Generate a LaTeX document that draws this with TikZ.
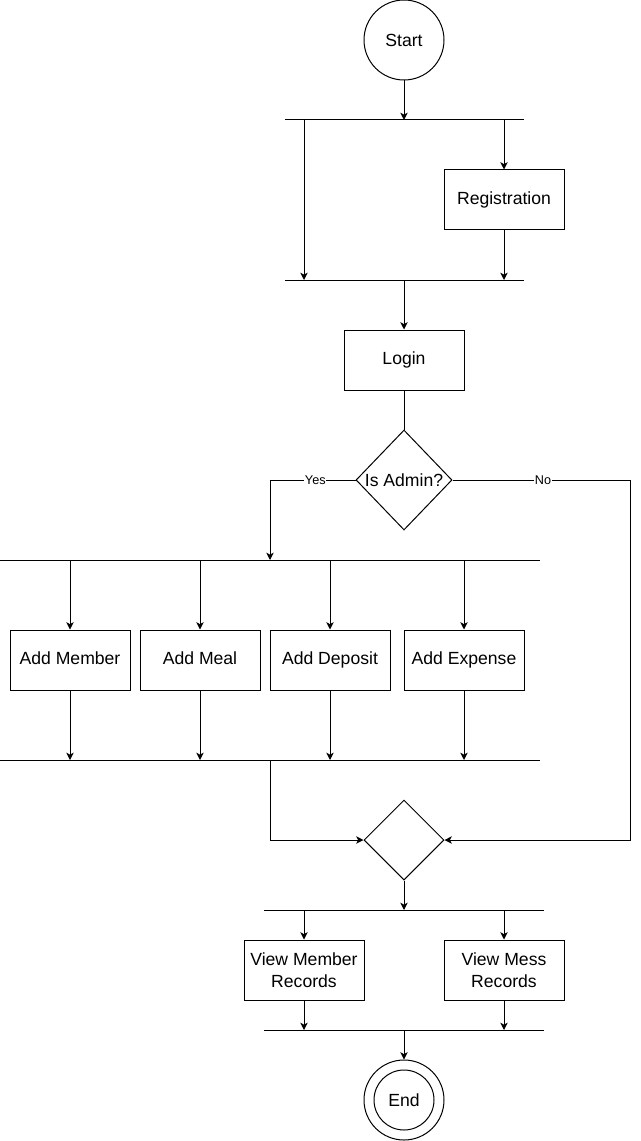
\documentclass[tikz,border=0pt]{standalone}
\usepackage{fontspec}
\setmainfont{Liberation Sans}
\usetikzlibrary{arrows.meta,shapes.geometric}

\tikzset{
	box/.style = {draw, line width=0.75pt, minimum width=90pt, minimum height=45pt, inner sep=1pt, align=center, font=\fontsize{13.2pt}{16.5pt}\selectfont},
	plainbox/.style = {box, text height=9.8pt, text depth=2.8pt},
	terminal/.style = {draw, circle, line width=0.75pt, minimum size=60pt, inner sep=0pt, font=\fontsize{13.2pt}{16pt}\selectfont},
	decision/.style = {draw, diamond, line width=0.75pt, inner sep=0pt},
	bar/.style = {line width=0.75pt},
	arr/.style = {line width=0.75pt, -{Stealth[length=5.5pt, width=5.5pt, inset=1.5pt]}},
	link/.style = {line width=0.75pt},
	edgelabel/.style = {fill=white, inner sep=0.5pt, font=\fontsize{9.5pt}{11pt}\selectfont}
}

\begin{document}
\begin{tikzpicture}[x=0.75pt, y=-0.75pt]

	\useasboundingbox (0,0) rectangle (640,1141);

	% nodes
	\node[terminal] (start) at (404,40) {Start};
	\node[plainbox] (reg) at (504,200) {Registration};
	\node[plainbox] (login) at (404,360) {Login};
	\node[decision, minimum width=72pt, minimum height=75pt,
		label={[font=\fontsize{13.2pt}{16pt}\selectfont]center:Is Admin?}] (admin) at (404,480) {};
	\node[plainbox] (member) at (70,660) {Add Member};
	\node[plainbox] (meal) at (200,660) {Add Meal};
	\node[plainbox] (deposit) at (330,660) {Add Deposit};
	\node[plainbox] (expense) at (464,660) {Add Expense};
	\node[decision, minimum width=60pt, minimum height=60pt] (merge) at (404,840) {};
	\node[box] (vmember) at (304,970) {View Member\\Records};
	\node[box] (vmess) at (504,970) {View Mess\\Records};
	\node[terminal] (end) at (404,1100) {End};
	\draw[line width=0.75pt] (end) circle[radius=22.5pt];

	% bars
	\coordinate (b1l) at (285,120); \coordinate (b1r) at (524,120);
	\coordinate (b2l) at (285,280); \coordinate (b2r) at (524,280);
	\coordinate (b3l) at (0,560);   \coordinate (b3r) at (540,560);
	\coordinate (b4l) at (0,760);   \coordinate (b4r) at (540,760);
	\coordinate (b5l) at (264,910); \coordinate (b5r) at (544,910);
	\coordinate (b6l) at (264,1030); \coordinate (b6r) at (544,1030);
	\foreach \b in {1,...,6}
		\draw[bar] (b\b l) -- (b\b r);

	% registration fork
	\draw[arr] (start) -- (start |- b1l);
	\draw[arr] (304,120) coordinate (skip) -- (skip |- b2l);
	\draw[arr] (reg.north |- b1l) -- (reg.north);
	\draw[arr] (reg) -- (reg |- b2l);
	\draw[arr] (login.north |- b2l) -- (login.north);
	\draw[link] (login) -- (admin.north);

	% admin branch
	\coordinate (yes) at (270,480);
	\coordinate (no) at (630,480);
	\draw[arr] (admin.west) -- node[edgelabel, pos=0.47] {Yes} (yes) -- (yes |- b3l);
	\draw[arr] (admin.east) -- node[edgelabel, pos=0.51] {No} (no) |- (merge.east);
	\foreach \n in {member,meal,deposit,expense} {
		\draw[arr] (\n.north |- b3l) -- (\n.north);
		\draw[arr] (\n) -- (\n |- b4l);
	}
	\draw[arr] (270,760) coordinate (join) |- (merge.west);

	% records
	\draw[arr] (merge) -- (merge |- b5l);
	\foreach \n in {vmember,vmess} {
		\draw[arr] (\n.north |- b5l) -- (\n.north);
		\draw[arr] (\n) -- (\n |- b6l);
	}
	\draw[arr] (end.north |- b6l) -- (end.north);

\end{tikzpicture}
\end{document}
